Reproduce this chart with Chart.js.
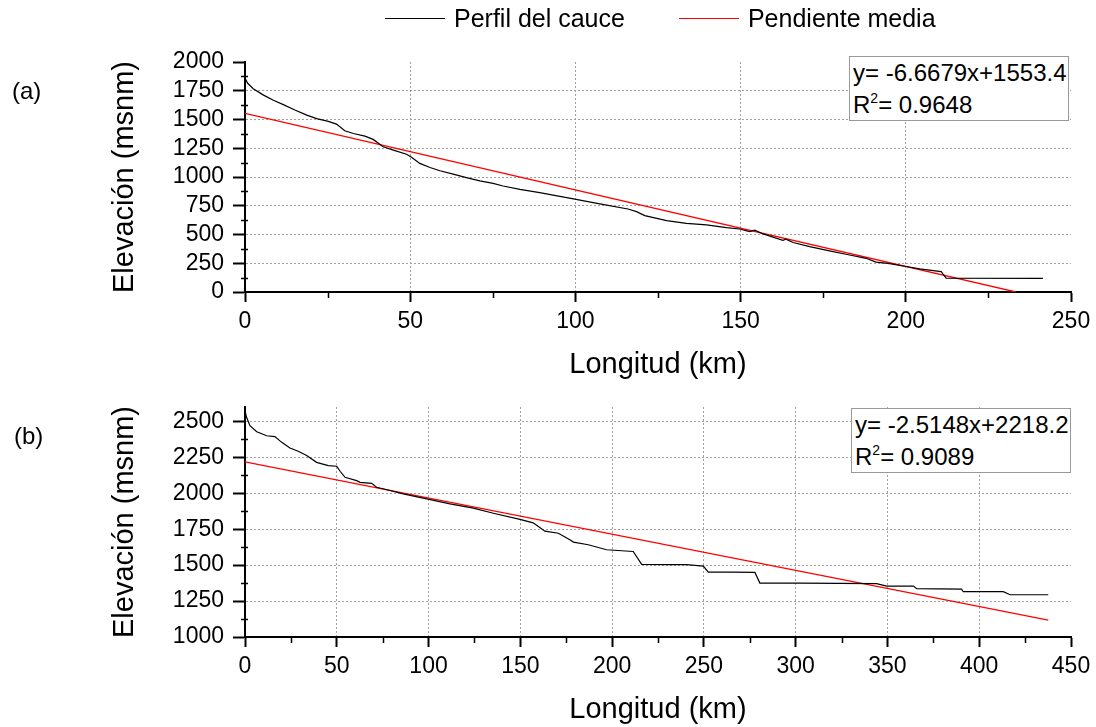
<!DOCTYPE html>
<html><head><meta charset="utf-8">
<script src="https://cdn.jsdelivr.net/npm/chart.js@4.4.1/dist/chart.umd.min.js"></script>
<style>
html,body{margin:0;padding:0;background:#fff;}
#wrap{position:relative;width:1096px;height:727px;overflow:hidden;font-family:"Liberation Sans",Arial,sans-serif;color:#000;}
canvas{position:absolute;left:0;}
#c1{top:0;}
#c2{top:390px;}
.legend{position:absolute;left:385px;top:3px;display:flex;align-items:center;font-size:25px;line-height:30px;white-space:nowrap;}
.legend .item{display:flex;align-items:center;margin-right:54px;}
.legend .swatch{width:60px;height:0;border-top:1.3px solid #000;margin-right:9px;}
.eq{position:absolute;width:220px;height:65px;box-sizing:border-box;border:1px solid #9a9a9a;background:#fff;font-size:24px;line-height:31.6px;padding:0 0 0 3px;white-space:nowrap;}
.eq .sup{font-size:14px;position:relative;top:-10px;}
.panel{position:absolute;font-size:24px;line-height:24px;}
</style></head>
<body>
<div id="wrap">
  <canvas id="c1" width="1096" height="390"></canvas>
  <canvas id="c2" width="1096" height="337"></canvas>
  <div class="legend" id="legend"></div>
  <div class="panel" style="left:12px;top:79px;">(a)</div>
  <div class="panel" style="left:14px;top:424px;">(b)</div>
  <div class="eq" id="eqA" style="left:849px;top:56px;"></div>
  <div class="eq" id="eqB" style="left:851px;top:408px;"></div>
</div>
<script>
// ---------- data ----------
const seriesNames = ['Perfil del cauce', 'Pendiente media'];
const seriesColors = ['#000000', '#ff0000'];

const profileA_x = [0, 0.8, 2.5, 5.6, 8.6, 11.6, 15.1, 18.7, 21.7, 25.2, 27.7, 30.2, 32.8, 36.3, 38.8, 41.8, 44.9, 48.9, 50.4, 52.9, 56, 59, 63, 67, 71.1, 75.1, 78.1, 83.2, 89.2, 99.8, 107.4, 115.9, 118.5, 121, 127.6, 133.6, 139.7, 145.7, 149.7, 152.7, 154.3, 156.8, 162.8, 163.7, 165.9, 170.9, 176.9, 183, 188, 191, 195.1, 200.1, 204.2, 210.7, 212.2, 241.5];
const profileA_y = [1860, 1815, 1768, 1712, 1667, 1629, 1582, 1538, 1508, 1484, 1460, 1402, 1378, 1355, 1327, 1263, 1234, 1198, 1172, 1118, 1083, 1054, 1025, 995, 966, 944, 922, 893, 864, 808, 766, 722, 699, 664, 620, 597, 583, 560, 548, 525, 538, 505, 450, 460, 430, 394, 357, 322, 293, 260, 247, 222, 201, 177, 121, 119];
const trendA_x = [0, 233.3];
const trendA_y = [1553.4, 0];

const profileB_x = [0, 0.8, 2.7, 6.4, 11.8, 16.3, 20, 24.5, 29, 33.6, 39, 45.4, 50, 51.8, 54.5, 60.8, 62.7, 69, 71.7, 79, 86.2, 99, 111.7, 124.4, 135.3, 149.8, 157, 163.4, 170.7, 177, 178.9, 187, 197, 211.5, 216.1, 229.7, 240.6, 249.7, 252.4, 266, 277.8, 280.5, 302.4, 344.1, 349.6, 364.1, 366, 390.4, 391.3, 413.1, 416.8, 437.6];
const profileB_y = [2575, 2530, 2470, 2428, 2400, 2394, 2354, 2315, 2292, 2262, 2215, 2192, 2188, 2153, 2111, 2088, 2076, 2069, 2042, 2019, 1996, 1961, 1926, 1896, 1861, 1818, 1794, 1736, 1722, 1676, 1660, 1642, 1607, 1595, 1505, 1503, 1503, 1493, 1451, 1451, 1449, 1375, 1375, 1371, 1354, 1354, 1336, 1333, 1315, 1315, 1294, 1294];
const trendB_x = [0, 437.6];
const trendB_y = [2218.2, 1117.7];

const xTicksA = [0, 50, 100, 150, 200, 250];
const yTicksA = [0, 250, 500, 750, 1000, 1250, 1500, 1750, 2000];
const xTicksB = [0, 50, 100, 150, 200, 250, 300, 350, 400, 450];
const yTicksB = [1000, 1250, 1500, 1750, 2000, 2250, 2500];
const yMaxB = 2600;

const eqTextA = ['y= -6.6679x+1553.4', '0.9648'];
const eqTextB = ['y= -2.5148x+2218.2', '0.9089'];
const xTitle = 'Longitud (km)';
const yTitle = 'Elevación (msnm)';

// ---------- html bits ----------
const leg = document.getElementById('legend');
seriesNames.forEach((n, i) => {
  const it = document.createElement('div'); it.className = 'item';
  const sw = document.createElement('span'); sw.className = 'swatch'; sw.style.borderTopColor = seriesColors[i];
  const tx = document.createElement('span'); tx.textContent = n;
  it.appendChild(sw); it.appendChild(tx); leg.appendChild(it);
});
function fillEq(id, t) {
  const el = document.getElementById(id);
  el.innerHTML = '';
  const l1 = document.createElement('div'); l1.textContent = t[0];
  const l2 = document.createElement('div'); l2.innerHTML = 'R<span class="sup">2</span>= ' + t[1];
  el.appendChild(l1); el.appendChild(l2);
}
fillEq('eqA', eqTextA); fillEq('eqB', eqTextB);

// ---------- charts ----------
const FONT = '"Liberation Sans", Arial, sans-serif';
const toPts = (xs, ys) => xs.map((x, i) => ({x: x, y: ys[i]}));

const minorTicks = {
  id: 'minorTicks',
  afterDraw(chart, args, opts) {
    const ctx = chart.ctx, xs = chart.scales.x, ys = chart.scales.y;
    ctx.save();
    ctx.strokeStyle = '#000'; ctx.lineWidth = 1.5;
    ctx.beginPath();
    const xt = opts.xTicks, yt = opts.yTicks;
    for (let i = 0; i < xt.length - 1; i++) {
      const p = Math.round(xs.getPixelForValue((xt[i] + xt[i + 1]) / 2)) + 0.5;
      ctx.moveTo(p, xs.top); ctx.lineTo(p, xs.top + 6);
    }
    const yv = yt.slice();
    if (opts.yMax > yt[yt.length - 1]) yv.push(yt[yt.length - 1] + (yt[1] - yt[0]));
    for (let i = 0; i < yv.length - 1; i++) {
      const m = (yv[i] + yv[i + 1]) / 2;
      if (m > opts.yMax) continue;
      const p = Math.round(ys.getPixelForValue(m)) + 0.5;
      ctx.moveTo(ys.right - 4, p); ctx.lineTo(ys.right + 3, p);
    }
    ctx.stroke();
    ctx.restore();
  }
};

function makeChart(id, cfg) {
  const xMin = cfg.xTicks[0], xMax = cfg.xTicks[cfg.xTicks.length - 1];
  const yMin = cfg.yTicks[0], yMax = cfg.yMax;
  return new Chart(document.getElementById(id), {
    type: 'line',
    data: {
      datasets: [
        {label: seriesNames[0], data: toPts(cfg.px, cfg.py), borderColor: seriesColors[0], borderWidth: 1.2, pointRadius: 0, tension: 0, fill: false},
        {label: seriesNames[1], data: toPts(cfg.tx, cfg.ty), borderColor: seriesColors[1], borderWidth: 1.3, pointRadius: 0, tension: 0, fill: false}
      ]
    },
    options: {
      responsive: false, animation: false, events: [],
      layout: {padding: {top: cfg.padTop, right: 25, left: 0, bottom: 0}},
      plugins: {legend: {display: false}, tooltip: {enabled: false},
        minorTicks: {xTicks: cfg.xTicks, yTicks: cfg.yTicks, yMax: yMax}},
      scales: {
        x: {
          type: 'linear', min: xMin, max: xMax,
          afterBuildTicks: s => { s.ticks = cfg.xTicks.map(v => ({value: v})); },
          afterFit: s => { s.height = cfg.xHeight; s.paddingLeft = 0; s.paddingRight = 0; },
          ticks: {font: {family: FONT, size: 23}, color: '#000', padding: 6, maxRotation: 0, autoSkip: false,
                  callback: v => String(v)},
          grid: {color: c => (c.tick && c.tick.value === xMax) ? 'rgba(0,0,0,0)' : '#a0a0a0', lineWidth: 1,
                 tickColor: '#000', tickWidth: 2, tickLength: 10},
          border: {color: '#000', width: 2, dash: [2, 2]},
          title: {display: true, text: xTitle, font: {family: FONT, size: 29}, color: '#000', padding: {top: 0, bottom: cfg.xTitlePad}}
        },
        y: {
          type: 'linear', min: yMin, max: yMax,
          afterBuildTicks: s => { s.ticks = cfg.yTicks.map(v => ({value: v})); },
          afterFit: s => { s.width = 245; s.paddingTop = 0; s.paddingBottom = 0; },
          ticks: {font: {family: FONT, size: 23}, color: '#000', padding: 9, autoSkip: false,
                  callback: v => String(v)},
          grid: {color: c => (c.tick && c.tick.value === yMax) ? 'rgba(0,0,0,0)' : '#a0a0a0', lineWidth: 1,
                 tickColor: '#000', tickWidth: 2, tickLength: 12},
          border: {color: '#000', width: 2, dash: [2, 2]},
          title: {display: true, text: yTitle, font: {family: FONT, size: 29}, color: '#000', padding: {top: 108, bottom: 0}}
        }
      }
    },
    plugins: [minorTicks]
  });
}

makeChart('c1', {px: profileA_x, py: profileA_y, tx: trendA_x, ty: trendA_y,
  xTicks: xTicksA, yTicks: yTicksA, yMax: yTicksA[yTicksA.length - 1], padTop: 62, xHeight: 98, xTitlePad: 8});
makeChart('c2', {px: profileB_x, py: profileB_y, tx: trendB_x, ty: trendB_y,
  xTicks: xTicksB, yTicks: yTicksB, yMax: yMaxB, padTop: 17, xHeight: 90, xTitlePad: 0});
</script>
</body></html>
